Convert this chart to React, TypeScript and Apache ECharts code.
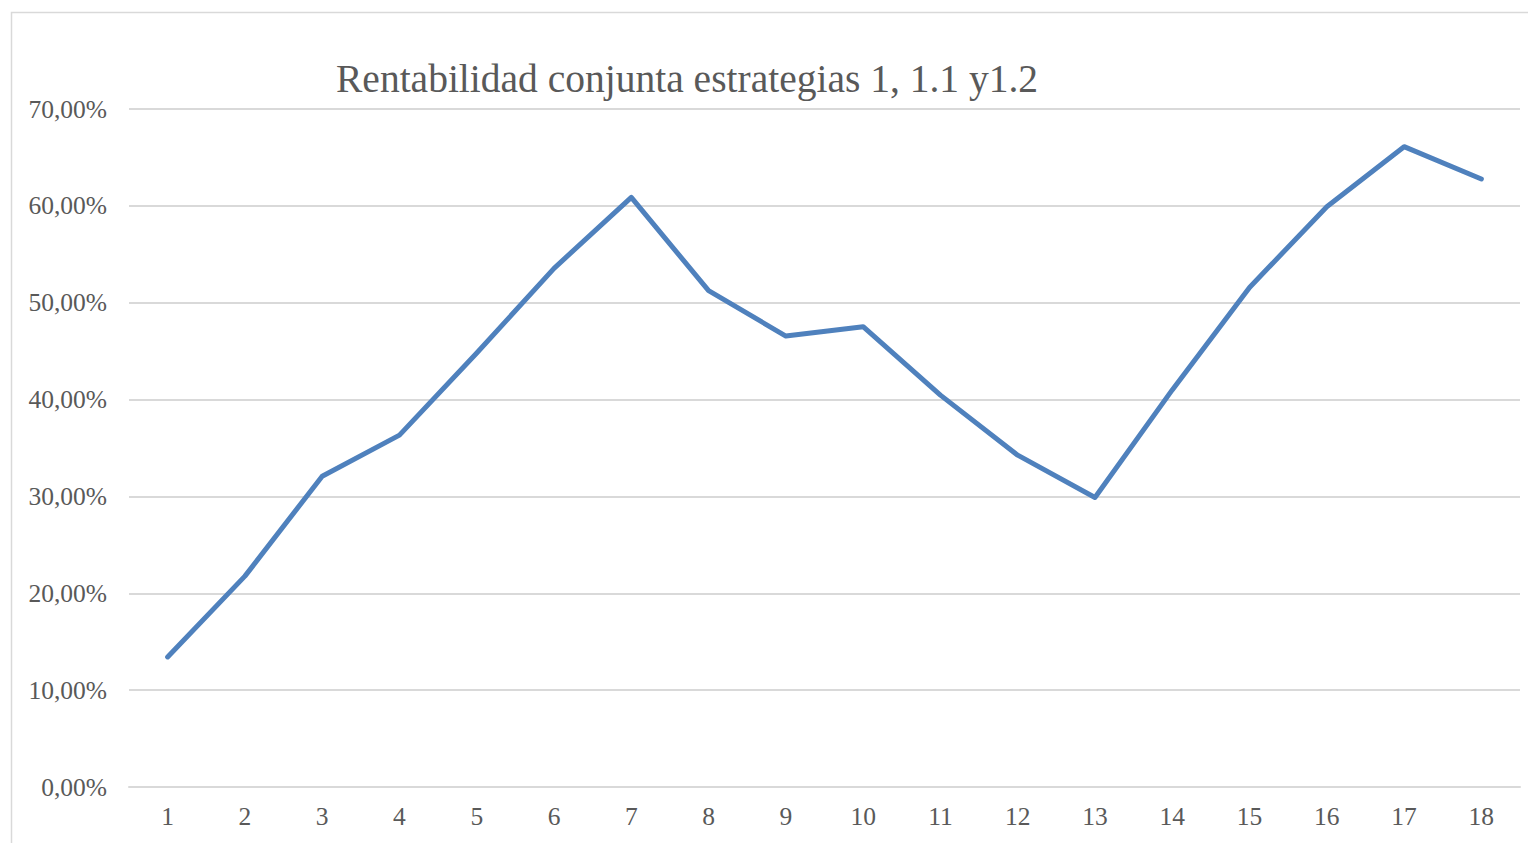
import React, { useEffect, useRef } from "react";
import * as echarts from "echarts";

const titleText = "Rentabilidad conjunta estrategias 1, 1.1 y1.2";
const categories = ["1", "2", "3", "4", "5", "6", "7", "8", "9", "10", "11", "12", "13", "14", "15", "16", "17", "18"];
const values = [13.43, 21.77, 32.09, 36.33, 44.8, 53.55, 60.88, 51.24, 46.56, 47.52, 40.46, 34.26, 29.89, 41.0, 51.58, 59.91, 66.11, 62.77];
const yTicks = { min: 0, max: 70, interval: 10 };

const FONT = "Liberation Serif";
const TXT = "#595959";

export default function App() {
  const ref = useRef<HTMLDivElement>(null);
  useEffect(() => {
    document.body.style.margin = "0";
    const chart = echarts.init(ref.current!, null, { renderer: "svg" });
    chart.setOption({
      animation: false,
      backgroundColor: "#ffffff",
      title: {
        text: titleText,
        left: 331,
        top: 54,
        textStyle: { fontFamily: FONT, fontSize: 39.5, fontWeight: "normal", color: TXT },
      },
      graphic: [
        {
          type: "rect",
          shape: { x: 11.5, y: 12.5, width: 1540, height: 850 },
          style: { fill: "none", stroke: "#d9d9d9", lineWidth: 1.5 },
          silent: true,
        },
      ],
      grid: { left: 129, right: 8, top: 109, bottom: 56 },
      xAxis: {
        type: "category",
        data: categories,
        boundaryGap: true,
        axisLine: { show: true, lineStyle: { color: "#d9d9d9", width: 2 } },
        axisTick: { show: false },
        axisLabel: { fontFamily: FONT, fontSize: 25.5, color: TXT, margin: 16 },
      },
      yAxis: {
        type: "value",
        min: yTicks.min,
        max: yTicks.max,
        interval: yTicks.interval,
        axisLine: { show: false },
        axisTick: { show: false },
        splitLine: { lineStyle: { color: "#d9d9d9", width: 2 } },
        axisLabel: {
          fontFamily: FONT,
          fontSize: 25.5,
          color: TXT,
          margin: 22,
          formatter: (v: number) => v.toFixed(2).replace(".", ",") + "%",
        },
      },
      series: [
        {
          type: "line",
          data: values,
          showSymbol: false,
          symbol: "none",
          lineStyle: { color: "#4F81BD", width: 5, cap: "round", join: "round" },
        },
      ],
    });
    return () => chart.dispose();
  }, []);
  return <div ref={ref} style={{ width: 1528, height: 843 }} />;
}
